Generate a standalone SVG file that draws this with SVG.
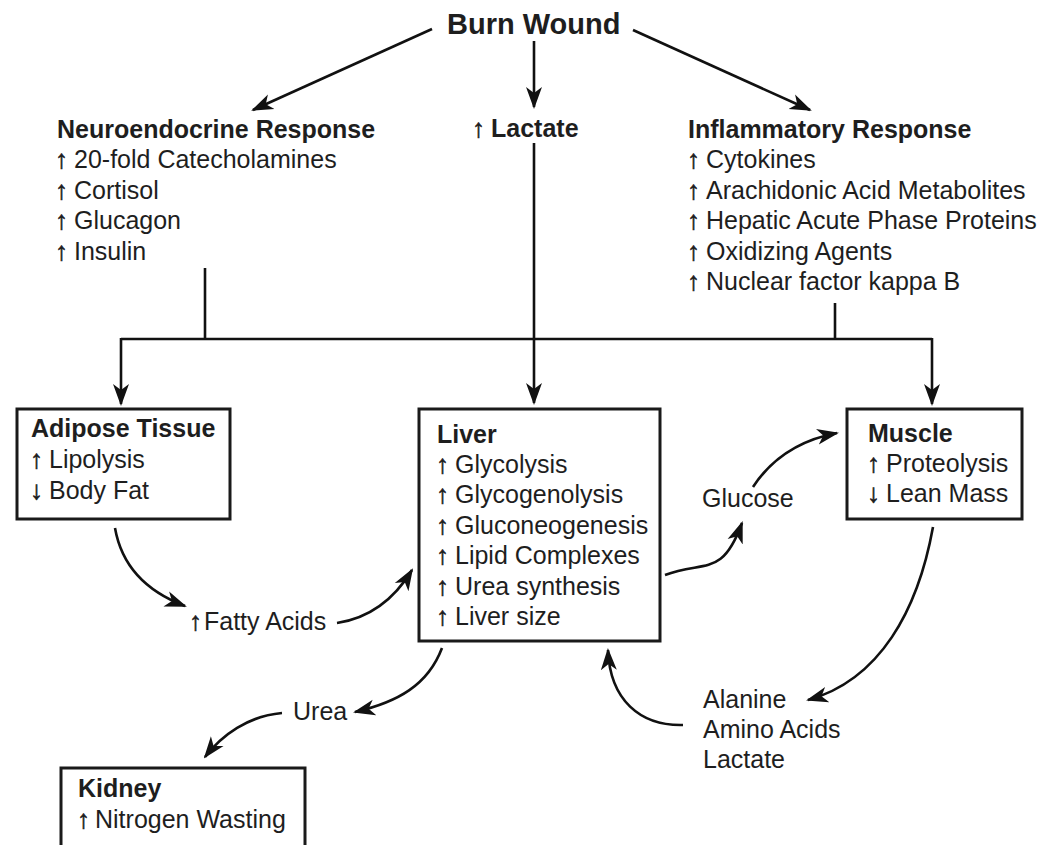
<svg xmlns="http://www.w3.org/2000/svg" width="1046" height="845" viewBox="0 0 1046 845">
<defs>
<style>
text{font-family:"Liberation Sans",Arial,sans-serif;fill:#1e1e1e;font-size:25px}
.b{font-weight:bold}
.t{font-weight:bold;font-size:29px}
.a{font-weight:normal;font-size:26px;stroke:#1e1e1e;stroke-width:0.6}
.box{fill:none;stroke:#1a1a1a;stroke-width:3}
.ln{fill:none;stroke:#111;stroke-width:2.6}
.ar{fill:none;stroke:#111;stroke-width:2.6;marker-end:url(#ah)}
</style>
<marker id="ah" markerUnits="userSpaceOnUse" markerWidth="22" markerHeight="18" viewBox="0 0 22 18" refX="20" refY="9" orient="auto">
<path d="M0,1 L22,9 L0,17 L6,9 z" fill="#111"/>
</marker>
</defs>
<rect width="1046" height="845" fill="#fff"/>

<g id="burn"><text class="t" x="447" y="34">Burn Wound</text></g>

<g id="neuro">
<text class="b" x="57" y="138">Neuroendocrine Response</text>
<text y="168"><tspan class="a" x="55">↑</tspan><tspan x="74">20-fold Catecholamines</tspan></text>
<text y="199"><tspan class="a" x="55">↑</tspan><tspan x="74">Cortisol</tspan></text>
<text y="229"><tspan class="a" x="55">↑</tspan><tspan x="74">Glucagon</tspan></text>
<text y="260"><tspan class="a" x="55">↑</tspan><tspan x="74">Insulin</tspan></text>
</g>

<g id="lactate"><text class="b" y="137"><tspan class="a" x="472">↑</tspan><tspan x="491">Lactate</tspan></text></g>

<g id="inflam">
<text class="b" x="688" y="138">Inflammatory Response</text>
<text y="168"><tspan class="a" x="687">↑</tspan><tspan x="706">Cytokines</tspan></text>
<text y="199"><tspan class="a" x="687">↑</tspan><tspan x="706">Arachidonic Acid Metabolites</tspan></text>
<text y="229"><tspan class="a" x="687">↑</tspan><tspan x="706">Hepatic Acute Phase Proteins</tspan></text>
<text y="260"><tspan class="a" x="687">↑</tspan><tspan x="706">Oxidizing Agents</tspan></text>
<text y="290"><tspan class="a" x="687">↑</tspan><tspan x="706">Nuclear factor kappa B</tspan></text>
</g>

<g id="adipose">
<rect class="box" x="17" y="409" width="213" height="110"/>
<text class="b" x="31" y="437">Adipose Tissue</text>
<text y="468"><tspan class="a" x="30">↑</tspan><tspan x="49">Lipolysis</tspan></text>
<text y="499"><tspan class="a" x="30">↓</tspan><tspan x="49">Body Fat</tspan></text>
</g>

<g id="liver">
<rect class="box" x="419" y="409" width="241" height="232"/>
<text class="b" x="437" y="443">Liver</text>
<text y="473"><tspan class="a" x="436">↑</tspan><tspan x="455">Glycolysis</tspan></text>
<text y="503"><tspan class="a" x="436">↑</tspan><tspan x="455">Glycogenolysis</tspan></text>
<text y="534"><tspan class="a" x="436">↑</tspan><tspan x="455">Gluconeogenesis</tspan></text>
<text y="564"><tspan class="a" x="436">↑</tspan><tspan x="455">Lipid Complexes</tspan></text>
<text y="595"><tspan class="a" x="436">↑</tspan><tspan x="455">Urea synthesis</tspan></text>
<text y="625"><tspan class="a" x="436">↑</tspan><tspan x="455">Liver size</tspan></text>
</g>

<g id="muscle">
<rect class="box" x="847" y="409" width="175" height="110"/>
<text class="b" x="868" y="442">Muscle</text>
<text y="472"><tspan class="a" x="867">↑</tspan><tspan x="886">Proteolysis</tspan></text>
<text y="502"><tspan class="a" x="867">↓</tspan><tspan x="886">Lean Mass</tspan></text>
</g>

<g id="kidney">
<rect class="box" x="61" y="768" width="244" height="90"/>
<text class="b" x="78" y="797">Kidney</text>
<text y="828"><tspan class="a" x="77">↑</tspan><tspan x="95">Nitrogen Wasting</tspan></text>
</g>

<g id="fatty"><text y="630"><tspan class="a" x="189">↑</tspan><tspan x="204">Fatty Acids</tspan></text></g>
<g id="glucose"><text x="702" y="507">Glucose</text></g>
<g id="urea"><text x="293" y="720">Urea</text></g>
<g id="aminos">
<text x="703" y="708">Alanine</text>
<text x="703" y="738">Amino Acids</text>
<text x="703" y="768">Lactate</text>
</g>

<g id="connectors">
<line class="ar" x1="432" y1="29" x2="253" y2="110"/>
<line class="ar" x1="534" y1="41" x2="534" y2="107"/>
<line class="ar" x1="633" y1="30" x2="810" y2="110"/>
<line class="ln" x1="205" y1="268" x2="205" y2="339"/>
<line class="ln" x1="835" y1="303" x2="835" y2="339"/>
<polyline class="ln" points="121,339 932,339"/>
<line class="ar" x1="121" y1="338" x2="121" y2="404"/>
<line class="ar" x1="932" y1="338" x2="932" y2="404"/>
<line class="ar" x1="534" y1="143" x2="534" y2="403"/>
<path class="ar" d="M115,528 C122,568 148,592 185,606"/>
<path class="ar" d="M337,623 C370,618 395,598 412,570"/>
<path class="ar" d="M665,575 C705,560 722,578 742,523"/>
<path class="ar" d="M753,487 C772,458 800,440 837,433"/>
<path class="ar" d="M933,527 C918,610 880,680 808,700"/>
<path class="ar" d="M683,725 C640,726 610,700 608,650"/>
<path class="ar" d="M442,648 C428,685 398,702 355,712"/>
<path class="ar" d="M282,713 C248,716 222,735 205,757"/>
</g>
</svg>
